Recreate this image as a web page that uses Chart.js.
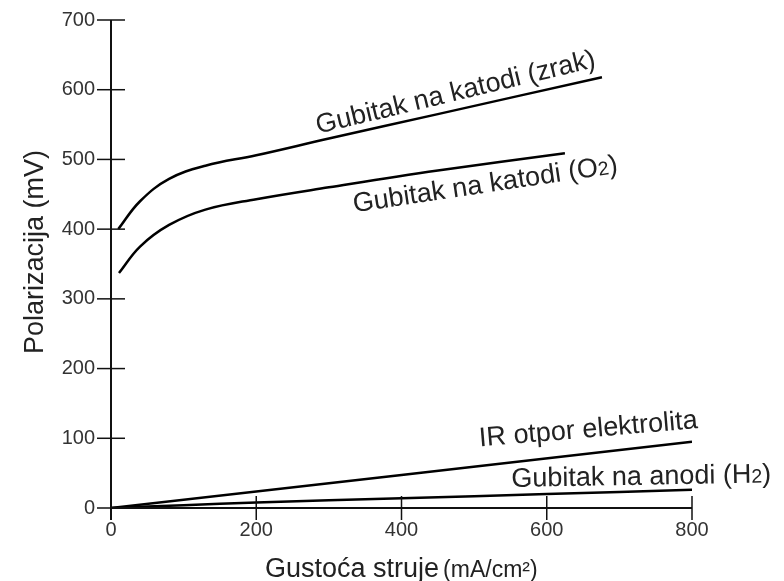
<!DOCTYPE html>
<html lang="hr">
<head>
  <meta charset="UTF-8">
  <title>Polarizacija</title>
  <script src="https://cdn.jsdelivr.net/npm/chart.js"></script>
  <style>
    body {
      margin: 0;
      background: #ffffff;
    }
    .okvir {
      position: relative;
      width: 784px;
      height: 581px;
    }
  </style>
</head>
<body>
  <div class="okvir">
    <canvas id="grafPolarizacija"></canvas>
  </div>

  <script>
    // podaci ocitani sa slike (x u mA/cm2, y u mV)
    const zrakX = [10, 40, 80, 130, 200, 300, 450, 676];
    const zrakY = [400, 440, 472, 491, 506, 530, 565, 618];

    const kisikX = [11, 40, 80, 130, 200, 300, 450, 625];
    const kisikY = [337, 375, 406, 428, 443, 460, 484, 509];

    const irX = [0, 800];
    const irY = [0, 95];

    const anodaX = [0, 100, 200, 400, 600, 800];
    const anodaY = [0, 4, 8, 14, 20, 26];

    const xTicks = [0, 200, 400, 600, 800];
    const yTicks = [0, 100, 200, 300, 400, 500, 600, 700];

    const parovi = (xs, ys) => xs.map((x, i) => ({ x: x, y: ys[i] }));

    // natpisi uz krivulje: sidro u koordinatama podataka, kut u stupnjevima
    const natpisi = [
      { dijelovi: [['Gubitak na katodi (zrak)', 1]], x: 474, y: 598, kut: -13.5 },
      { dijelovi: [['Gubitak na katodi (O', 1], ['2', 0.72], [')', 1]], x: 515, y: 466, kut: -8.5 },
      { dijelovi: [['IR otpor elektrolita', 1]], x: 657, y: 115, kut: -4.8 },
      { dijelovi: [['Gubitak na anodi (H', 1], ['2', 0.72], [')', 1]], x: 730, y: 47, kut: -1 }
    ];

    const FONT = "'Liberation Sans', Arial, sans-serif";

    function pisiDijelove(ctx, dijelovi, vel) {
      let sirina = 0;
      dijelovi.forEach(d => {
        ctx.font = (vel * d[1]) + 'px ' + FONT;
        sirina += ctx.measureText(d[0]).width;
      });
      let x = -sirina / 2;
      const pomak = vel * 0.35;
      dijelovi.forEach(d => {
        ctx.font = (vel * d[1]) + 'px ' + FONT;
        ctx.fillText(d[0], x, pomak);
        x += ctx.measureText(d[0]).width;
      });
    }

    const osiINatpisi = {
      id: 'osiINatpisi',
      afterDraw(chart) {
        const ctx = chart.ctx;
        const xs = chart.scales.x;
        const ys = chart.scales.y;
        const x0 = xs.getPixelForValue(0);
        const y0 = ys.getPixelForValue(0);

        ctx.save();
        ctx.strokeStyle = '#111';
        ctx.lineWidth = 2;

        // y os
        ctx.beginPath();
        ctx.moveTo(x0, ys.getPixelForValue(700));
        ctx.lineTo(x0, y0 + 12);
        ctx.stroke();
        // x os
        ctx.beginPath();
        ctx.moveTo(x0, y0);
        ctx.lineTo(xs.getPixelForValue(800), y0);
        ctx.stroke();

        ctx.lineWidth = 1.5;
        yTicks.forEach(v => {
          const py = ys.getPixelForValue(v);
          ctx.beginPath();
          ctx.moveTo(x0 - 14, py);
          ctx.lineTo(v === 0 ? x0 : x0 + 14, py);
          ctx.stroke();
        });
        xTicks.forEach(v => {
          if (v === 0) return;
          const px = xs.getPixelForValue(v);
          ctx.beginPath();
          ctx.moveTo(px, y0 - 12);
          ctx.lineTo(px, y0 + 12);
          ctx.stroke();
        });

        // naslovi osi
        ctx.fillStyle = '#222';
        ctx.textBaseline = 'alphabetic';
        ctx.textAlign = 'left';
        ctx.font = '27px ' + FONT;
        const glavni = 'Gustoća struje';
        ctx.fillText(glavni, 265, 577);
        const w = ctx.measureText(glavni).width;
        ctx.font = '23px ' + FONT;
        ctx.fillText('(mA/cm²)', 265 + w + 4, 577);

        ctx.save();
        ctx.translate(43, 252);
        ctx.rotate(-Math.PI / 2);
        ctx.textAlign = 'center';
        ctx.font = '27px ' + FONT;
        ctx.fillText('Polarizacija (mV)', 0, 0);
        ctx.restore();

        // natpisi krivulja
        ctx.textAlign = 'left';
        ctx.textBaseline = 'alphabetic';
        natpisi.forEach(n => {
          ctx.save();
          ctx.translate(xs.getPixelForValue(n.x), ys.getPixelForValue(n.y));
          ctx.rotate(n.kut * Math.PI / 180);
          pisiDijelove(ctx, n.dijelovi, 27);
          ctx.restore();
        });
        ctx.restore();
      }
    };

    const linija = (podaci) => ({
      data: podaci,
      showLine: true,
      borderColor: '#000',
      borderWidth: 2.5,
      pointRadius: 0,
      tension: 0.4,
      fill: false
    });

    const ctx = document.getElementById('grafPolarizacija').getContext('2d');
    new Chart(ctx, {
      type: 'scatter',
      data: {
        datasets: [
          linija(parovi(zrakX, zrakY)),
          linija(parovi(kisikX, kisikY)),
          linija(parovi(irX, irY)),
          linija(parovi(anodaX, anodaY))
        ]
      },
      options: {
        responsive: true,
        maintainAspectRatio: false,
        animation: false,
        layout: {
          padding: { top: 20, right: 92, left: 0, bottom: 0 }
        },
        plugins: {
          legend: { display: false },
          tooltip: { enabled: false }
        },
        scales: {
          x: {
            type: 'linear',
            min: 0,
            max: 800,
            afterFit: (s) => {
              s.height = 73;
              s.paddingLeft = 0;
              s.paddingRight = 0;
            },
            afterBuildTicks: (s) => { s.ticks = xTicks.map(v => ({ value: v })); },
            grid: { display: false, drawTicks: false },
            border: { display: false },
            ticks: {
              padding: 10,
              color: '#333',
              font: { family: FONT, size: 20 },
              maxRotation: 0
            }
          },
          y: {
            type: 'linear',
            min: 0,
            max: 700,
            afterFit: (s) => {
              s.width = 111;
              s.paddingTop = 0;
              s.paddingBottom = 0;
            },
            afterBuildTicks: (s) => { s.ticks = yTicks.map(v => ({ value: v })); },
            grid: { display: false, drawTicks: false },
            border: { display: false },
            ticks: {
              padding: 16,
              color: '#333',
              font: { family: FONT, size: 20 }
            }
          }
        }
      },
      plugins: [osiINatpisi]
    });
  </script>
</body>
</html>
